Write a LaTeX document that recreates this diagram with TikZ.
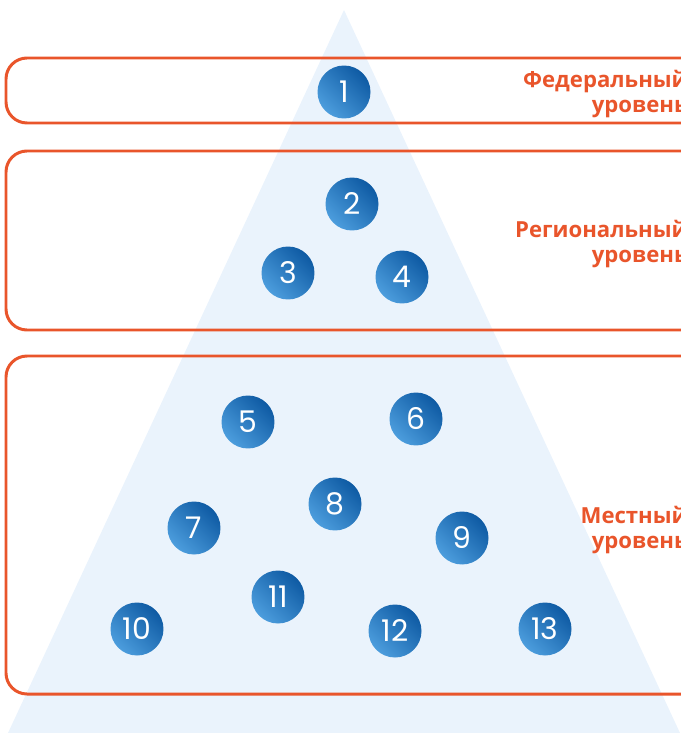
\documentclass[tikz,border=0pt]{standalone}
\usepackage{fontspec}
\setmainfont{Open Sans}
\newfontfamily\numfont{Poppins}
\usetikzlibrary{shadings}

\definecolor{levelorange}{HTML}{E9552B}
\definecolor{pyrfill}{HTML}{EAF3FC}
\definecolor{balllight}{HTML}{4C9DDD}
\definecolor{balldark}{HTML}{0E5AA3}

\begin{document}
\begin{tikzpicture}[x=0.02cm,y=-0.02cm,
    levelbox/.style={draw=levelorange,line width=1.7pt,rounded corners=0.42cm},
    ball/.style={circle,minimum size=1.06cm,inner sep=0pt,
      left color=balllight,right color=balldark,shading angle=135,
      text=white,font=\numfont\fontsize{17}{17}\selectfont},
    levellabel/.style={anchor=north east,align=right,text=levelorange,
      font=\bfseries\fontsize{12.6}{14.3}\selectfont,inner sep=0pt}]
    \useasboundingbox (0,0) rectangle (680,733);

    % pyramid
    \fill[pyrfill] (344,10) -- (680,733) -- (8,733) -- cycle;

    % levels
    \draw[levelbox] (6,58) rectangle (720,123);
    \draw[levelbox] (6,151) rectangle (720,330);
    \draw[levelbox] (6,356) rectangle (720,694);

    \node[levellabel] (fed) at (688,70) {Федеральный\\уровень};
    \node[levellabel] (reg) at (688,220) {Региональный\\уровень};
    \node[levellabel] (loc) at (688,506) {Местный\\уровень};

    % federal
    \node[ball] (b1) at (344,92) {1};
    % regional
    \node[ball] (b2) at (352,204) {2};
    \node[ball] (b3) at (288,273) {3};
    \node[ball] (b4) at (402,277) {4};
    % local
    \node[ball] (b5) at (248,422) {5};
    \node[ball] (b6) at (416,419) {6};
    \node[ball] (b7) at (194,528) {7};
    \node[ball] (b8) at (335,504) {8};
    \node[ball] (b9) at (462,538) {9};
    \node[ball] (b10) at (137,629) {10};
    \node[ball] (b11) at (278,597) {11};
    \node[ball] (b12) at (395,631) {12};
    \node[ball] (b13) at (545,629) {13};

\end{tikzpicture}
\end{document}
